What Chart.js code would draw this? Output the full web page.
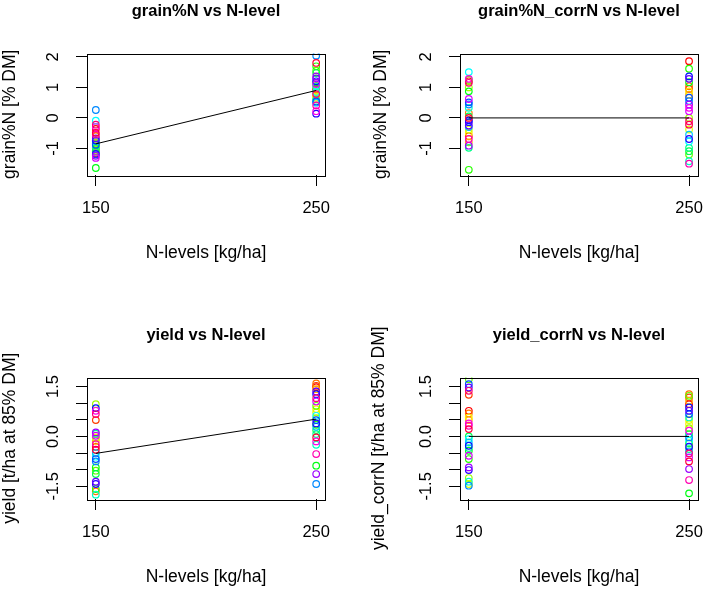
<!DOCTYPE html>
<html>
<head>
<meta charset="utf-8">
<script src="https://cdn.jsdelivr.net/npm/chart.js@4"></script>
<style>
  body { margin: 0; background: #fff; width: 716px; height: 590px; position: relative; overflow: hidden; }
  canvas { position: absolute; }
</style>
</head>
<body>
<canvas id="c1" width="358" height="266" style="left:0;top:0"></canvas>
<canvas id="c2" width="358" height="266" style="left:358px;top:0"></canvas>
<canvas id="c3" width="358" height="266" style="left:0;top:324px"></canvas>
<canvas id="c4" width="358" height="266" style="left:358px;top:324px"></canvas>
<script>
// N levels (x) and axis ticks
const nLevels = [150, 250];
const xTicks = [150, 250];
const grainTicks = [-1, 0, 1, 2];
const yieldTicks = [-1.5, -1, -0.5, 0, 0.5, 1, 1.5];
const yieldTickLabels = [-1.5, 0, 1.5];

// one value per genotype (26 genotypes, rainbow coloured)
const grainN150 = [-0.36, -1.15, -0.60, -0.82, -0.98, -0.91, -1.07, -0.85, -1.00, -1.64, -1.10, -0.95, -0.78,
                   -0.09, -1.20, 0.26, -0.88, -0.74, -1.18, -0.67, -1.24, -1.31, -0.30, -0.55, -0.22, -0.49];
const grainN250 = [0.93, 0.95, 0.84, 0.75, 0.66, 0.70, 1.05, 1.55, 1.69, 1.15, 1.47, 0.60, 1.02,
                   0.85, 0.50, 2.04, 0.54, 1.20, 0.14, 1.29, 1.36, 1.11, 0.22, 0.41, 0.78, 1.80];
const grainNMeans = [-0.85, 0.90];

const grainNc150 = [1.20, -0.60, 0.16, -0.80, -0.49, -0.38, 1.00, 1.25, -1.70, 0.87, 0.05, -0.98, 0.33,
                    1.50, -0.30, 0.44, 0.51, -0.08, -0.14, -0.25, -0.91, 0.62, 1.28, -0.69, 1.15, 0.00];
const grainNc250 = [1.86, 0.95, 1.04, 0.76, 0.87, -0.38, 0.00, -1.20, 1.61, 1.17, -1.09, -0.98, -1.42,
                    -0.77, -0.55, 0.55, 0.66, 1.36, -0.69, 1.28, 0.44, 0.22, 0.33, -1.50, -0.11, -0.22];
const grainNcMeans = [0, 0];

const yield150 = [-0.31, 0.49, -1.65, -0.13, -0.03, -0.05, 0.97, -1.03, -1.58, -0.93, -1.13, 0.08, -1.75,
                  -0.61, -0.50, -0.75, -0.68, 0.85, -1.43, -1.36, 0.12, 0.02, 0.77, -0.23, 0.67, -0.40];
const yield250 = [1.48, 1.52, 1.59, 1.42, 0.82, 0.72, 0.55, 0.92, 0.35, -0.88, 0.19, 0.07, -0.25,
                  0.62, 0.29, -1.43, 0.49, 1.27, 0.39, 1.35, -1.13, 1.05, -0.15, -0.53, 1.15, -0.03];
const yieldMeans = [-0.51, 0.52];

const yieldc150 = [0.77, 1.25, 0.69, 0.49, 0.57, -1.43, -1.25, 1.72, -0.68, -0.43, 0.00, -0.35, -1.36,
                   -0.08, -0.18, -1.48, 1.57, -0.28, -1.01, 1.47, -0.93, -0.58, 0.39, 0.32, 1.37, 0.22];
const yieldc250 = [0.97, 1.17, 1.27, 1.07, 0.37, 0.49, 0.25, 1.22, -0.21, -1.71, 0.07, -0.38, 0.57,
                   -0.13, -0.45, -0.03, 0.67, 0.87, -0.31, 0.77, -0.98, -0.63, 0.17, -1.31, -0.51, -0.75];
const yieldcMeans = [0, 0];

const FONT = "'Liberation Sans', Arial, sans-serif";
const colors = Array.from({length: grainN150.length}, (_, i) => `hsl(${i * 360 / grainN150.length},100%,50%)`);

const fmtGrain = v => String(v);
const fmtYield = v => yieldTickLabels.includes(v) ? v.toFixed(1) : '';

const panels = [
  {id: 'c1', title: 'grain%N vs N-level', ylab: 'grain%N [% DM]', a: grainN150, b: grainN250, line: grainNMeans,
   ymin: -1.87, ymax: 2.11, ticks: grainTicks, fmt: fmtGrain, yw: 87, pr: 33, ylx: 10.5, tp: 15},
  {id: 'c2', title: 'grain%N_corrN vs N-level', ylab: 'grain%N [% DM]', a: grainNc150, b: grainNc250, line: grainNcMeans,
   ymin: -1.87, ymax: 2.11, ticks: grainTicks, fmt: fmtGrain, yw: 102, pr: 18, ylx: 23, tp: 15},
  {id: 'c3', title: 'yield vs N-level', ylab: 'yield [t/ha at 85% DM]', a: yield150, b: yield250, line: yieldMeans,
   ymin: -1.88, ymax: 1.77, ticks: yieldTicks, fmt: fmtYield, yw: 87, pr: 33, ylx: 10.5, tp: 8},
  {id: 'c4', title: 'yield_corrN vs N-level', ylab: 'yield_corrN [t/ha at 85% DM]', a: yieldc150, b: yieldc250, line: yieldcMeans,
   ymin: -1.88, ymax: 1.77, ticks: yieldTicks, fmt: fmtYield, yw: 102, pr: 18, ylx: 21, tp: 8}
];

// frame around the plot region, like R's box()
const boxPlugin = {
  id: 'box',
  afterDatasetsDraw(chart) {
    const a = chart.chartArea, c = chart.ctx;
    c.save();
    c.strokeStyle = '#000';
    c.lineWidth = 1;
    c.strokeRect(Math.round(a.left) + 0.5, Math.round(a.top) + 0.5, Math.round(a.right - a.left), Math.round(a.bottom - a.top));
    c.restore();
  }
};

// y axis title (Chart.js squeezes long vertical titles to the axis height)
const yTitlePlugin = {
  id: 'ytitle',
  afterDraw(chart, args, opts) {
    const a = chart.chartArea, c = chart.ctx;
    c.save();
    c.font = `17.5px ${FONT}`;
    c.fillStyle = '#000';
    c.textAlign = 'center';
    c.textBaseline = 'middle';
    c.translate(opts.x, (a.top + a.bottom) / 2);
    c.rotate(-Math.PI / 2);
    c.fillText(opts.text, 0, 0);
    c.restore();
  }
};

const tickGrid = {display: true, drawOnChartArea: false, drawTicks: true, tickLength: 11, color: '#000', lineWidth: 1};

panels.forEach(p => {
  new Chart(document.getElementById(p.id), {
    type: 'scatter',
    data: {
      datasets: [
        {
          data: nLevels.map((x, i) => ({x: x, y: p.line[i]})),
          showLine: true, borderColor: '#000', borderWidth: 1, pointRadius: 0
        },
        {
          data: p.a.map(y => ({x: nLevels[0], y: y})).concat(p.b.map(y => ({x: nLevels[1], y: y}))),
          pointStyle: 'circle', pointRadius: 3.3, pointBorderWidth: 1.2,
          pointBorderColor: colors.concat(colors), pointBackgroundColor: 'rgba(0,0,0,0)'
        }
      ]
    },
    options: {
      responsive: false,
      animation: false,
      layout: {padding: {left: 0, right: p.pr, top: 0, bottom: 0}},
      plugins: {
        legend: {display: false},
        tooltip: {enabled: false},
        title: {
          display: true, text: p.title, fullSize: false, color: '#000',
          font: {size: 16.5, weight: 'bold', family: FONT, lineHeight: 1},
          padding: {top: 3.5, bottom: 33.5}
        },
        ytitle: {text: p.ylab, x: p.ylx}
      },
      scales: {
        x: {
          type: 'linear', min: 146, max: 254,
          afterBuildTicks: s => { s.ticks = xTicks.map(v => ({value: v})); },
          afterFit: s => { s.height = 91; },
          grid: tickGrid,
          border: {display: false},
          ticks: {color: '#000', font: {size: 16.5, family: FONT}, padding: 12.5, maxRotation: 0, autoSkip: false},
          title: {display: true, text: 'N-levels [kg/ha]', color: '#000', font: {size: 17.5, family: FONT, lineHeight: 1}, padding: {top: 0, bottom: 4}}
        },
        y: {
          min: p.ymin, max: p.ymax,
          afterBuildTicks: s => { s.ticks = p.ticks.map(v => ({value: v})); },
          afterFit: s => { s.width = p.yw; },
          grid: tickGrid,
          border: {display: false},
          ticks: {color: '#000', font: {size: 16.5, family: FONT}, padding: p.tp, minRotation: 90, maxRotation: 90,
                  autoSkip: false, crossAlign: 'center', callback: p.fmt}
        }
      }
    },
    plugins: [boxPlugin, yTitlePlugin]
  });
});
</script>
</body>
</html>
